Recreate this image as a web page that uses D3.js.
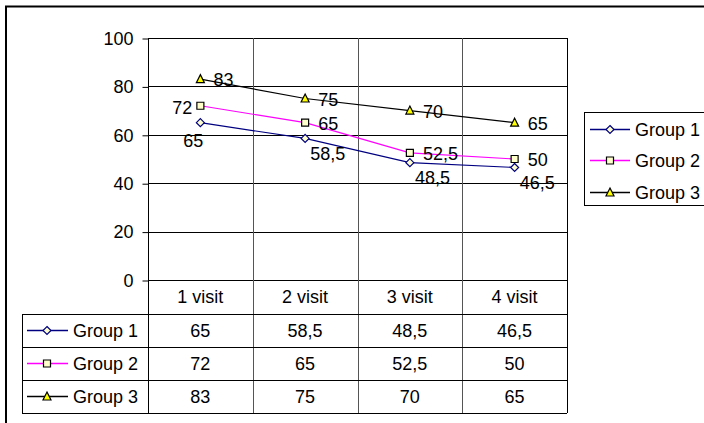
<!DOCTYPE html>
<html>
<head>
    <title>Visits by group</title>
    <script src="https://d3js.org/d3.v7.min.js"></script>
    <style>
        body { margin: 0; background: #fff; }
        text { font-family: "Liberation Sans", Arial, sans-serif; font-size: 18px; fill: #000; }
    </style>
</head>
<body>
    <script>
// chart values
const categories = ["1 visit", "2 visit", "3 visit", "4 visit"];
const groupNames = ["Group 1", "Group 2", "Group 3"];
const group1 = [65, 58.5, 48.5, 46.5];
const group2 = [72, 65, 52.5, 50];
const group3 = [83, 75, 70, 65];
const yTicks = [0, 20, 40, 60, 80, 100];

const series = [
    { name: groupNames[0], values: group1, stroke: "#000080", marker: "diamond", fill: "#FFFFCC", mstroke: "#000080" },
    { name: groupNames[1], values: group2, stroke: "#FF00FF", marker: "square", fill: "#FFFFCC", mstroke: "#000000" },
    { name: groupNames[2], values: group3, stroke: "#000000", marker: "triangle", fill: "#FFFF00", mstroke: "#000000" }
];

// where the data labels sit relative to their point (first point differs)
const labelPlace = [
    { dx: 5, dy: 15.5, anchor: "start", first: { dx: -7, dy: 18, anchor: "middle" } },
    { dx: 13, dy: 1, anchor: "start", first: { dx: -8, dy: 2, anchor: "end" } },
    { dx: 13, dy: 1, anchor: "start" }
];

const fmt = d => String(d).replace(".", ",");

const W = 704, H = 423;
const plot = { left: 148, right: 567, top: 38, bottom: 280 };
const rowH = 33, headH = 34;
const tableLeft = 22;

let svg = d3.select("body").append("svg")
    .attr("width", W)
    .attr("height", H);

// outer chart frame (runs off the page on right and bottom)
svg.append("rect")
    .attr("x", 6).attr("y", 6.5)
    .attr("width", 900).attr("height", 600)
    .attr("fill", "none").attr("stroke", "#000").attr("stroke-width", 2);

let x = d3.scaleBand()
    .domain(categories)
    .range([plot.left, plot.right]);

let y = d3.scaleLinear()
    .domain([0, 100])
    .range([plot.bottom, plot.top]);

const tableBottom = plot.bottom + headH + rowH * series.length;

// horizontal gridlines
svg.append("g").selectAll("line")
    .data(yTicks)
    .enter().append("line")
    .attr("x1", plot.left).attr("x2", plot.right)
    .attr("y1", d => Math.round(y(d)) + 0.5)
    .attr("y2", d => Math.round(y(d)) + 0.5)
    .attr("stroke", "#000");

// vertical lines at category boundaries, through the data table
let bounds = categories.map(c => x(c)).concat([plot.right]);
svg.append("g").selectAll("line")
    .data(bounds)
    .enter().append("line")
    .attr("x1", d => Math.round(d) + 0.5).attr("x2", d => Math.round(d) + 0.5)
    .attr("y1", plot.top).attr("y2", tableBottom)
    .attr("stroke", (d, i) => (i === 0 || i === bounds.length - 1) ? "#000" : "#555");

// y axis
let yAxis = d3.axisLeft(y)
    .tickValues(yTicks)
    .tickSize(6)
    .tickPadding(9);
let ag = svg.append("g")
    .attr("transform", `translate(${plot.left + 0.5},0.5)`)
    .call(yAxis);
ag.select(".domain").remove();
ag.selectAll("line").attr("stroke", "#000");
ag.selectAll("text")
    .attr("font-size", 18)
    .attr("font-family", "Liberation Sans, Arial, sans-serif")
    .attr("fill", "#000");

function markerPath(type) {
    if (type === "diamond") return "M0,-4L4,0L0,4L-4,0Z";
    if (type === "square") return "M-3.5,-3.5H3.5V3.5H-3.5Z";
    return "M0,-4.5L4,3.5H-4Z";
}

// lines, markers and data labels
let cx = c => x(c) + x.bandwidth() / 2;

series.forEach((s, si) => {
    let line = d3.line()
        .x((d, i) => cx(categories[i]))
        .y(d => y(d));

    svg.append("path")
        .datum(s.values)
        .attr("d", line)
        .attr("fill", "none")
        .attr("stroke", s.stroke)
        .attr("stroke-width", 1.2);

    svg.append("g").selectAll("path")
        .data(s.values)
        .enter().append("path")
        .attr("d", markerPath(s.marker))
        .attr("transform", (d, i) => `translate(${cx(categories[i])},${y(d)})`)
        .attr("fill", s.fill)
        .attr("stroke", s.mstroke)
        .attr("stroke-width", 1.2);

    svg.append("g").selectAll("text")
        .data(s.values)
        .enter().append("text")
        .each(function(d, i) {
            let p = (i === 0 && labelPlace[si].first) ? labelPlace[si].first : labelPlace[si];
            d3.select(this)
                .attr("x", cx(categories[i]) + p.dx)
                .attr("y", y(d) + p.dy)
                .attr("dy", "0.35em")
                .attr("text-anchor", p.anchor);
        })
        .text(d => fmt(d));
});

// data table
let tg = svg.append("g");
tg.selectAll("text.cat")
    .data(categories)
    .enter().append("text")
    .attr("class", "cat")
    .attr("x", d => cx(d))
    .attr("y", plot.bottom + headH / 2)
    .attr("dy", "0.35em")
    .attr("text-anchor", "middle")
    .text(d => d);

let rowTop = i => plot.bottom + headH + i * rowH;

// table row lines
tg.selectAll("line.row")
    .data(d3.range(series.length + 1))
    .enter().append("line")
    .attr("x1", tableLeft).attr("x2", plot.right)
    .attr("y1", i => Math.round(rowTop(i)) + 0.5)
    .attr("y2", i => Math.round(rowTop(i)) + 0.5)
    .attr("stroke", "#000");

tg.append("line")
    .attr("x1", tableLeft + 0.5).attr("x2", tableLeft + 0.5)
    .attr("y1", rowTop(0)).attr("y2", tableBottom)
    .attr("stroke", "#000");

series.forEach((s, si) => {
    let my = Math.floor(rowTop(si) + rowH / 2) + 0.5;
    tg.append("line")
        .attr("x1", 27).attr("x2", 68)
        .attr("y1", my).attr("y2", my)
        .attr("stroke", s.stroke).attr("stroke-width", 1.3);
    tg.append("path")
        .attr("d", markerPath(s.marker))
        .attr("transform", `translate(47,${my})`)
        .attr("fill", s.fill).attr("stroke", s.mstroke).attr("stroke-width", 1.2);
    tg.append("text")
        .attr("x", 73).attr("y", my).attr("dy", "0.35em")
        .text(s.name);
    tg.selectAll(null)
        .data(s.values)
        .enter().append("text")
        .attr("x", (d, i) => cx(categories[i]))
        .attr("y", my).attr("dy", "0.35em")
        .attr("text-anchor", "middle")
        .text(d => fmt(d));
});

// legend
let lg = svg.append("g");
lg.append("rect")
    .attr("x", 584.5).attr("y", 112.5)
    .attr("width", 200).attr("height", 93)
    .attr("fill", "#fff").attr("stroke", "#000");
series.forEach((s, si) => {
    let ly = Math.floor(129 + si * 31.5) + 0.5;
    lg.append("line")
        .attr("x1", 590).attr("x2", 630)
        .attr("y1", ly).attr("y2", ly)
        .attr("stroke", s.stroke).attr("stroke-width", 1.3);
    lg.append("path")
        .attr("d", markerPath(s.marker))
        .attr("transform", `translate(610,${ly})`)
        .attr("fill", s.fill).attr("stroke", s.mstroke).attr("stroke-width", 1.2);
    lg.append("text")
        .attr("x", 635).attr("y", ly).attr("dy", "0.35em")
        .text(s.name);
});
    </script>
</body>
</html>
